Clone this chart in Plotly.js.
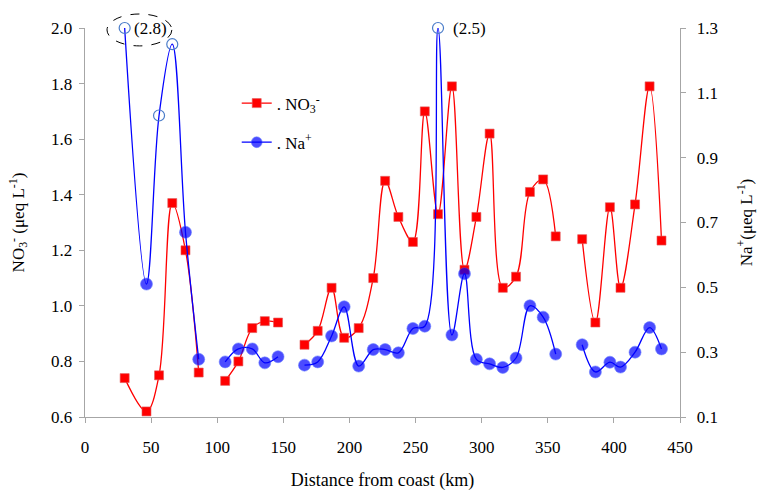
<!DOCTYPE html>
<html>
<head>
<meta charset="utf-8">
<script src="https://cdn.plot.ly/plotly-3.0.1.min.js"></script>
<style>html,body{margin:0;padding:0;background:#fff;}#chart{width:759px;height:493px;}</style>
</head>
<body>
<div id="chart"></div>
<script>
// Distance from coast (km); null values mark missing samples (line gaps)
const distance = [30,46.5,56,66,76,86,96,106,116,126.5,136,146,156,166,176,186.5,196,207,218,227,237,248,257,267,277.5,287,296,306,316,326,336.5,346.5,356,366,376,386,397,405,416,427,436];
// NO3- (ueq/L), left axis
const no3 = [0.74,0.62,0.75,1.37,1.20,0.76,null,0.73,0.80,0.92,0.945,0.94,null,0.86,0.91,1.065,0.885,0.92,1.10,1.45,1.32,1.23,1.70,1.33,1.79,1.13,1.32,1.62,1.065,1.105,1.41,1.455,1.25,null,1.24,0.94,1.355,1.065,1.365,1.79,1.235];
// Na+ (ueq/L), right axis (off-scale values drawn at the axis top, 1.3)
const na = [1.3,0.51,1.03,1.25,0.67,0.278,null,0.27,0.31,0.31,0.267,0.286,null,0.26,0.27,0.35,0.44,0.257,0.308,0.308,0.298,0.373,0.38,1.3,0.353,0.542,0.278,0.264,0.253,0.282,0.443,0.408,0.294,null,0.323,0.239,0.269,0.254,0.30,0.376,0.31];
// Points drawn as open circles
const naOpen = [true,false,true,true,false,false,false,false,false,false,false,false,false,false,false,false,false,false,false,false,false,false,false,true,false,false,false,false,false,false,false,false,false,false,false,false,false,false,false,false,false];
// Labels for off-scale values
const naLabels = {0: '(2.8)', 23: '(2.5)'};
const no3Ticks = [0.6,0.8,1.0,1.2,1.4,1.6,1.8,2.0];
const naTicks = [0.1,0.3,0.5,0.7,0.9,1.1,1.3];
const xTicks = [0,50,100,150,200,250,300,350,400,450];

const FONT = 'Liberation Serif, Times New Roman, serif';
const axisGray = '#a6a6a6';

const openX = [], openY = [];
distance.forEach((d,i)=>{ if(naOpen[i]){ openX.push(d); openY.push(na[i]); } });
const naSizes = naOpen.map(o => o ? 0 : 12);

const traces = [
  {
    x: distance, y: no3, name: '. NO<sub>3</sub><sup>-</sup>', legendgroup: 'a',
    mode: 'lines+markers', connectgaps: false,
    line: {color: '#ff0000', width: 1.3, shape: 'spline', smoothing: 1},
    marker: {symbol: 'square', size: 9, color: '#ff0000', line: {color: '#e05a5a', width: 0.6}},
    yaxis: 'y'
  },
  {
    x: distance, y: na, name: '. Na<sup>+</sup>', legendgroup: 'b',
    mode: 'lines+markers', connectgaps: false,
    line: {color: '#0000ff', width: 1.3, shape: 'spline', smoothing: 1},
    marker: {symbol: 'circle', size: naSizes, color: '#0000ff', line: {color: '#3050ff', width: 0.6}},
    yaxis: 'y2'
  },
  {
    x: openX, y: openY, showlegend: false, mode: 'markers', cliponaxis: false,
    marker: {symbol: 'circle-open', size: 11, color: '#4a7cc9', line: {width: 1.2, color: '#4a7cc9'}},
    yaxis: 'y2'
  }
];

const annotations = Object.keys(naLabels).map(k => ({
  x: distance[k], y: na[k], xref: 'x', yref: 'y2', text: naLabels[k],
  showarrow: false, xanchor: 'left', yanchor: 'middle', xshift: k == 0 ? 7 : 13,
  font: {family: FONT, size: 17, color: '#000'}
}));

const layout = {
  width: 759, height: 493,
  margin: {l: 85, r: 79, t: 28, b: 76},
  paper_bgcolor: '#fff', plot_bgcolor: '#fff',
  font: {family: FONT, size: 17, color: '#000'},
  showlegend: true,
  legend: {x: 0.255, y: 0.852, xanchor: 'left', yanchor: 'top', bgcolor: 'rgba(0,0,0,0)',
           font: {family: FONT, size: 17}, tracegroupgap: 14},
  xaxis: {
    range: [0, 450], tickvals: xTicks, ticktext: xTicks.map(String),
    showline: true, linecolor: axisGray, linewidth: 1.3, ticks: 'outside', ticklen: 5, tickcolor: axisGray,
    ticklabelstandoff: 9,
    showgrid: false, zeroline: false, tickfont: {family: FONT, size: 17},
    title: {text: 'Distance from coast (km)', font: {family: FONT, size: 18}, standoff: 17}
  },
  yaxis: {
    range: [0.6, 2.0], tickvals: no3Ticks, ticktext: no3Ticks.map(v => v.toFixed(1)),
    showline: true, linecolor: axisGray, linewidth: 1.3, ticks: 'outside', ticklen: 5, tickcolor: axisGray,
    ticklabelstandoff: 3,
    showgrid: false, zeroline: false, tickfont: {family: FONT, size: 17},
    title: {text: 'NO<sub>3</sub><sup>-</sup> (μeq L<sup>-1</sup>)', font: {family: FONT, size: 17}, standoff: 22}
  },
  yaxis2: {
    range: [0.1, 1.3], tickvals: naTicks, ticktext: naTicks.map(v => v.toFixed(1)),
    overlaying: 'y', side: 'right',
    showline: true, linecolor: axisGray, linewidth: 1.3, ticks: 'outside', ticklen: 5, tickcolor: axisGray,
    ticklabelstandoff: 7,
    showgrid: false, zeroline: false, tickfont: {family: FONT, size: 17},
    title: {text: 'Na<sup>+</sup>(μeq L<sup>-1</sup>)', font: {family: FONT, size: 17}, standoff: 22}
  },
  annotations: annotations,
  shapes: [{
    type: 'circle', xref: 'paper', yref: 'paper',
    x0: 0.037, x1: 0.146, y0: 0.954, y1: 1.036,
    line: {color: '#000', width: 1, dash: 'dash'}, layer: 'above'
  }]
};

Plotly.newPlot('chart', traces, layout, {displayModeBar: false, staticPlot: true});
</script>
</body>
</html>
